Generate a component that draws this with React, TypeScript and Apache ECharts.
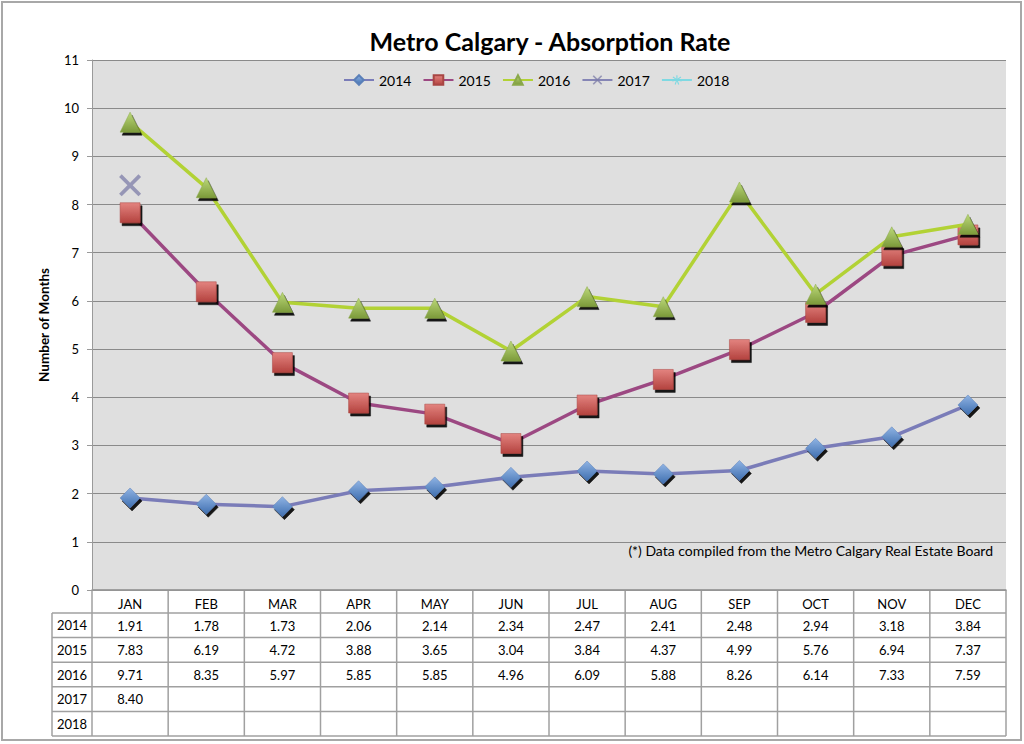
import React, { useEffect, useRef } from "react";
import * as echarts from "echarts";

const months = ["JAN", "FEB", "MAR", "APR", "MAY", "JUN", "JUL", "AUG", "SEP", "OCT", "NOV", "DEC"];
const years = ["2014", "2015", "2016", "2017", "2018"];
const v2014 = [1.91, 1.78, 1.73, 2.06, 2.14, 2.34, 2.47, 2.41, 2.48, 2.94, 3.18, 3.84];
const v2015 = [7.83, 6.19, 4.72, 3.88, 3.65, 3.04, 3.84, 4.37, 4.99, 5.76, 6.94, 7.37];
const v2016 = [9.71, 8.35, 5.97, 5.85, 5.85, 4.96, 6.09, 5.88, 8.26, 6.14, 7.33, 7.59];
const v2017: (number | null)[] = [8.4, null, null, null, null, null, null, null, null, null, null, null];
const v2018: (number | null)[] = [null, null, null, null, null, null, null, null, null, null, null, null];
const yTicks = [0, 11, 1];

const FONT = 'Lato, "Open Sans", sans-serif';
const GL = 92, GR = 1006, GT = 60, GB = 590;
const ROW0 = 613, ROWH = 24.6;

const xShape = "path://M0,1.2L1.2,0L5,3.8L8.8,0L10,1.2L6.2,5L10,8.8L8.8,10L5,6.2L1.2,10L0,8.8L3.8,5Z";
const starShape = "path://M4.4,0H5.6V3.6L8.8,1.4L9.5,2.4L6.3,4.5L10,5.4L9.7,6.5L6,5.6L7.4,9.3L6.3,9.8L5,6.2L3.7,9.8L2.6,9.3L4,5.6L0.3,6.5L0,5.4L3.7,4.5L0.5,2.4L1.2,1.4L4.4,3.6Z";

function grad(top: string, bottom: string) {
  return new echarts.graphic.LinearGradient(0, 0, 0, 1, [
    { offset: 0, color: top },
    { offset: 1, color: bottom },
  ]);
}

export default function App() {
  const ref = useRef<HTMLDivElement>(null);
  useEffect(() => {
    const chart = echarts.init(ref.current!, null, { renderer: "svg" });
    const rows = [v2014, v2015, v2016, v2017, v2018];
    const colW = (GR - GL) / months.length;
    const graphics: any[] = [
      { type: "rect", shape: { x: 2, y: 2, width: 1019, height: 738 }, style: { fill: "none", stroke: "#a8a8a8", lineWidth: 2 }, z: 100 },
    ];
    const tableBottom = ROW0 + ROWH * years.length;
    const lineStyle = { stroke: "#a0a0a0", lineWidth: 1.5 };
    graphics.push({ type: "line", shape: { x1: GL, y1: GB, x2: GR, y2: GB }, style: lineStyle });
    for (let r = 0; r <= years.length; r++) {
      const y = ROW0 + ROWH * r;
      graphics.push({ type: "line", shape: { x1: 52, y1: y, x2: GR, y2: y }, style: lineStyle });
    }
    graphics.push({ type: "line", shape: { x1: 52, y1: ROW0, x2: 52, y2: tableBottom }, style: lineStyle });
    for (let c = 0; c <= months.length; c++) {
      const x = GL + colW * c;
      graphics.push({ type: "line", shape: { x1: x, y1: GB, x2: x, y2: tableBottom }, style: lineStyle });
    }
    years.forEach((yr, r) => {
      graphics.push({
        type: "text",
        style: { text: yr, x: 72, y: ROW0 + ROWH * r + ROWH / 2, textAlign: "center", textVerticalAlign: "middle", fill: "#000", font: `13px ${FONT}` },
      });
    });
    graphics.push({
      type: "text",
      style: { text: "(*) Data compiled from the Metro Calgary Real Estate Board", x: 993, y: 550, textAlign: "right", textVerticalAlign: "middle", fill: "#000", font: `14px ${FONT}` },
    });

    const rowAxes = rows.map((vals, k) => ({
      type: "category",
      data: months,
      gridIndex: 0,
      position: "bottom",
      offset: 23 + ROWH * k,
      axisLine: { show: false },
      axisTick: { show: false },
      splitLine: { show: false },
      axisLabel: {
        interval: 0,
        margin: 6,
        fontSize: 13,
        fontFamily: FONT,
        color: "#000",
        formatter: (_v: string, i: number) => (vals[i] == null ? "" : (vals[i] as number).toFixed(2)),
      },
    }));

    const shadow = { shadowColor: "rgba(0,0,0,0.9)", shadowOffsetX: 2, shadowOffsetY: 3, shadowBlur: 0 };

    chart.setOption({
      animation: false,
      backgroundColor: "#ffffff",
      title: {
        text: "Metro Calgary - Absorption Rate",
        left: 545,
        textAlign: "center",
        top: 23,
        textStyle: { fontFamily: FONT, fontWeight: "bold", fontSize: 25, color: "#000" },
      },
      legend: {
        top: 68,
        left: 338,
        itemWidth: 30,
        itemHeight: 12,
        itemGap: 11,
        textStyle: { fontFamily: FONT, fontSize: 14, color: "#000" },
        data: ["2014", "2015", "2016", "2017", "2018"],
      },
      grid: {
        left: GL,
        right: 1024 - GR,
        top: GT,
        bottom: 744 - GB,
        show: true,
        backgroundColor: "#dfdfdf",
        borderWidth: 0,
      },
      xAxis: [
        {
          type: "category",
          data: months,
          axisLine: { show: true, lineStyle: { color: "#999", width: 1.5 } },
          axisTick: { show: false },
          axisLabel: { interval: 0, margin: 7, fontSize: 13, fontFamily: FONT, color: "#000" },
        },
        ...rowAxes,
      ],
      yAxis: {
        type: "value",
        min: yTicks[0],
        max: yTicks[1],
        interval: yTicks[2],
        name: "Number of Months",
        nameLocation: "middle",
        nameRotate: 90,
        nameGap: 41,
        nameTextStyle: { fontFamily: FONT, fontWeight: "bold", fontSize: 13.5, color: "#000" },
        axisLine: { show: true, lineStyle: { color: "#9a9a9a", width: 1 } },
        axisTick: { show: true, length: 5, lineStyle: { color: "#9a9a9a" } },
        axisLabel: { margin: 13, fontSize: 13, fontFamily: FONT, color: "#000" },
        splitLine: { show: true, lineStyle: { color: "#8a8a8a", width: 1 } },
      },
      series: [
        {
          name: "2014",
          type: "line",
          data: v2014,
          symbol: "diamond",
          symbolSize: 20,
          lineStyle: { color: "#7a7cb8", width: 3.5 },
          itemStyle: { color: grad("#8fb3e3", "#3f6fb0"), borderColor: "#5a7fb8", borderWidth: 0.5, ...shadow },
          z: 3,
        },
        {
          name: "2015",
          type: "line",
          data: v2015,
          symbol: "rect",
          symbolSize: 20,
          lineStyle: { color: "#9c4882", width: 3.5 },
          itemStyle: { color: grad("#e3837f", "#b4433f"), borderColor: "#a84643", borderWidth: 0.5, ...shadow },
          z: 4,
        },
        {
          name: "2016",
          type: "line",
          data: v2016,
          symbol: "triangle",
          symbolSize: 20,
          lineStyle: { color: "#b2d235", width: 3.5 },
          itemStyle: { color: grad("#bcd97a", "#7c9a3a"), borderColor: "#8aa84a", borderWidth: 0.5, ...shadow },
          z: 5,
        },
        {
          name: "2017",
          type: "line",
          data: v2017,
          symbol: xShape,
          symbolSize: 22,
          lineStyle: { color: "#8585b5", width: 3.5 },
          itemStyle: { color: "#7d7da8", opacity: 0.75 },
          z: 6,
        },
        {
          name: "2018",
          type: "line",
          data: v2018,
          symbol: starShape,
          symbolSize: 16,
          lineStyle: { color: "#7fd9e2", width: 3.5 },
          itemStyle: { color: "#7fd9e2" },
          z: 6,
        },
      ],
      graphic: graphics,
    });
    return () => chart.dispose();
  }, []);
  return <div ref={ref} style={{ position: "fixed", left: 0, top: 0, width: 1024, height: 744 }} />;
}
